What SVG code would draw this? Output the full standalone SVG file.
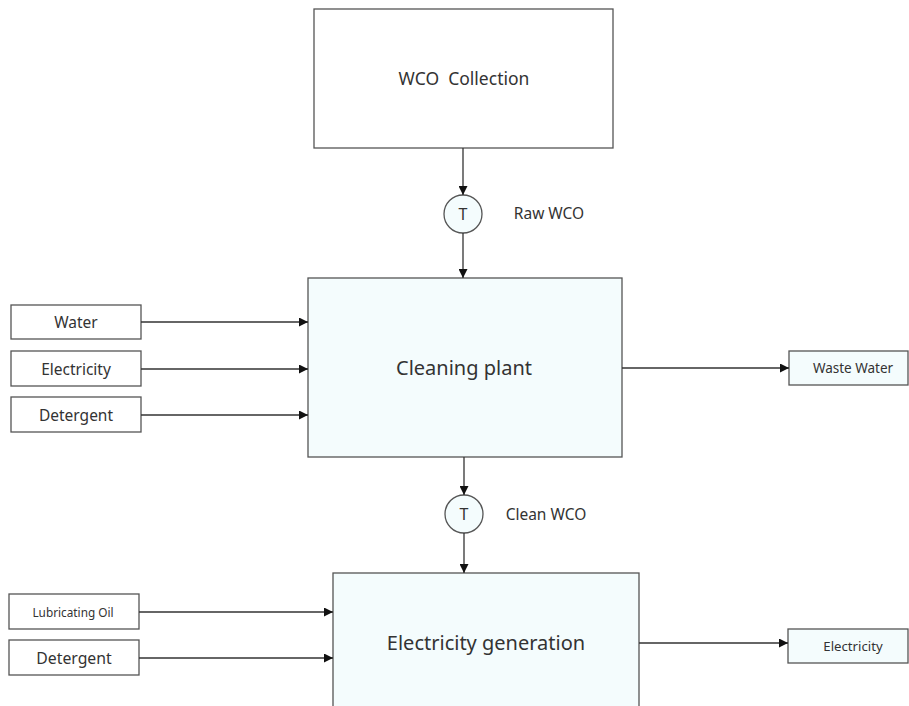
<svg xmlns="http://www.w3.org/2000/svg" width="909" height="706" viewBox="0 0 909 706">
<defs>
<marker id="ah" viewBox="0 0 10 10" refX="10" refY="5" markerWidth="9" markerHeight="9" markerUnits="userSpaceOnUse" orient="auto">
<path d="M0,0 L10,5 L0,10 z" fill="#111"/>
</marker>
<style>
.b{stroke:#555;stroke-width:1.3;fill:#fff}
.c{stroke:#555;stroke-width:1.3;fill:#f4fcfd}
.t{font-family:"Noto Sans","Open Sans",sans-serif;fill:#333;text-anchor:middle;dominant-baseline:central;white-space:pre}
.e{stroke:#333;stroke-width:1.3;fill:none;marker-end:url(#ah)}
</style>
</defs>
<rect width="909" height="706" fill="#fff"/>
<g id="wco-collection"><rect class="b" x="314" y="9" width="299" height="139"/><text class="t" x="464" y="78" font-size="17.5" xml:space="preserve">WCO  Collection</text></g>
<g id="t1"><circle class="c" cx="463" cy="214" r="19"/><text class="t" x="463" y="214" font-size="16">T</text></g>
<g id="raw-label"><text class="t" x="549" y="213" font-size="15.5">Raw WCO</text></g>
<g id="cleaning-plant"><rect class="c" x="308" y="278" width="314" height="179"/><text class="t" x="464" y="367" font-size="20">Cleaning plant</text></g>
<g id="water"><rect class="b" x="11" y="305" width="130" height="34"/><text class="t" x="76" y="322" font-size="15.5">Water</text></g>
<g id="electricity-in"><rect class="b" x="11" y="351" width="130" height="35"/><text class="t" x="76" y="369" font-size="15.5">Electricity</text></g>
<g id="detergent1"><rect class="b" x="11" y="397" width="130" height="35"/><text class="t" x="76" y="415" font-size="15.5">Detergent</text></g>
<g id="waste-water"><rect class="c" x="789" y="351" width="119" height="34"/><text class="t" x="853" y="368" font-size="13.5">Waste Water</text></g>
<g id="t2"><circle class="c" cx="464" cy="514" r="19"/><text class="t" x="464" y="514" font-size="16">T</text></g>
<g id="clean-label"><text class="t" x="546" y="514" font-size="15.5">Clean WCO</text></g>
<g id="electricity-generation"><rect class="c" x="333" y="573" width="306" height="140"/><text class="t" x="486" y="642" font-size="20">Electricity generation</text></g>
<g id="lubricating-oil"><rect class="b" x="9" y="594" width="130" height="35"/><text class="t" x="73" y="612" font-size="11.8">Lubricating Oil</text></g>
<g id="detergent2"><rect class="b" x="9" y="640" width="130" height="35"/><text class="t" x="74" y="658" font-size="15.8">Detergent</text></g>
<g id="electricity-out"><rect class="c" x="788" y="629" width="120" height="34"/><text class="t" x="853" y="646" font-size="13.2">Electricity</text></g>
<g id="connectors">
<path class="e" d="M463,148 V195"/>
<path class="e" d="M463,233 V278"/>
<path class="e" d="M141,322 H308"/>
<path class="e" d="M141,369 H308"/>
<path class="e" d="M141,415 H308"/>
<path class="e" d="M622,368 H789"/>
<path class="e" d="M464,457 V495"/>
<path class="e" d="M464,533 V573"/>
<path class="e" d="M139,612 H333"/>
<path class="e" d="M139,658 H333"/>
<path class="e" d="M639,643 H788"/>
</g>
</svg>
